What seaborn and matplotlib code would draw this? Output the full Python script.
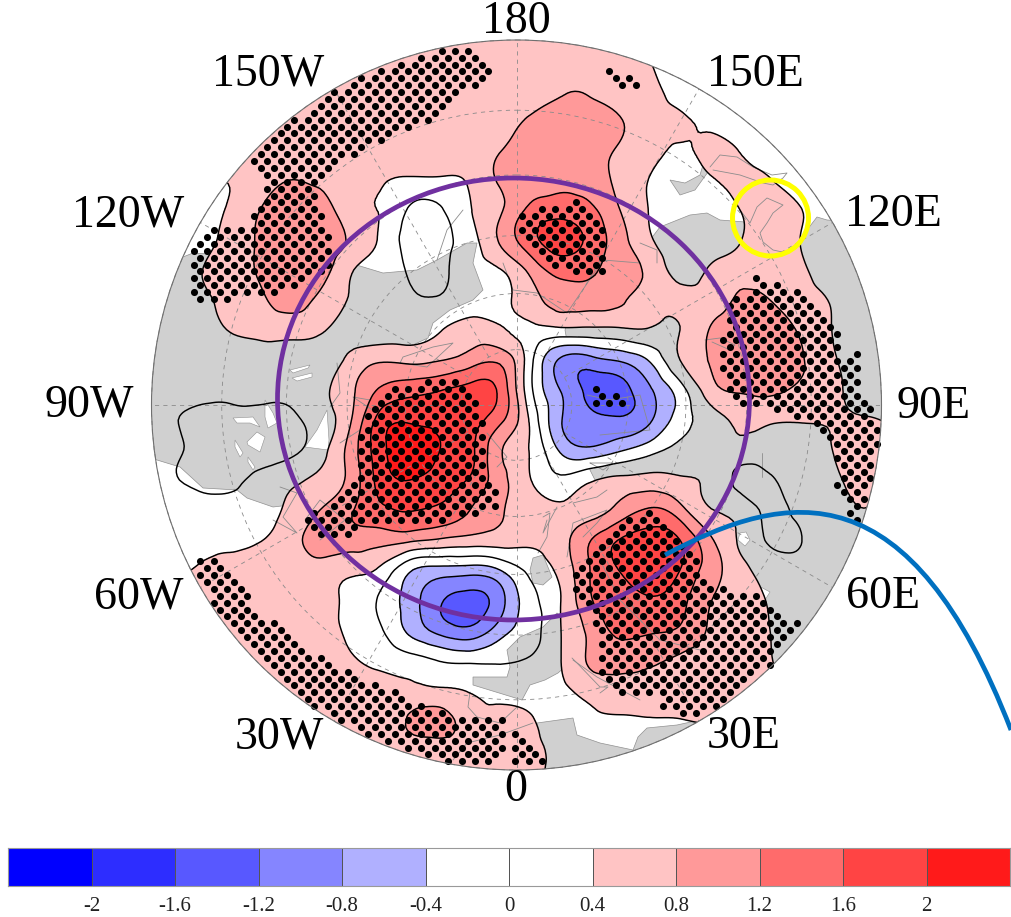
#!/usr/bin/env python3
import numpy as np
import seaborn as sns
import matplotlib.pyplot as plt
from matplotlib import colors, patches, tri
from matplotlib.path import Path

sns.set_theme(style="white")
plt.rcParams["font.family"] = ["Liberation Serif", "DejaVu Serif"]

# Map is laid out in reference picture coordinates
MAP_CENTER = (516.5, 405)
MAP_RADIUS = 365

grid_x = [140, 170, 200, 230, 260, 290, 320, 350, 380, 410, 440, 470, 500,
          530, 560, 590, 620, 650, 680, 710, 740, 770, 800, 830, 860, 890]
grid_y = [30, 60, 90, 120, 150, 180, 210, 240, 270, 300, 330, 360, 390, 420,
          450, 480, 510, 540, 570, 600, 630, 660, 690, 720, 750, 780]

# Field values, one list per row of grid_y
field_rows = [
    [.6] * 17 + [.3] + [.2] * 8,
    [.6] * 17 + [.4] + [.2] * 8,
    [.6] * 14 + [.75, .75, .6, .5, .25] + [.2] * 7,
    [.6] * 13 + [.85, .95, .95, .82, .6, .45, .3] + [.2] * 6,
    [.6] * 12 + [.78, 1.0, 1.05, 1.0, .75, .55, .35, .5, .38, .2] + [.2] * 4,
    [.3, .3, .3, .42, .6, .8, .7, .6, .45, .35, .35, .45, .85, 1.0, 1.1, 1.0, .7, .38, .15, .35, .5, .42, .2, .2, .2, .2],
    [.25, .25, .25, .45, .8, 1.05, 1.05, .55, .38, -.05, -.05, .38, .75, 1.3, 1.45, 1.3, .8, .38, .1, .1, .4, .55, .42, .2, .2, .2],
    [.2, .2, .25, .55, .85, 1.1, 1.1, .75, .35, -.15, -.15, .25, .85, 1.45, 1.75, 1.5, .95, .45, .1, .1, .38, .6, .4, .15, .15, .15],
    [.2, .2, .38, .6, .85, 1.1, 1.0, .45, .25, -.05, -.1, .2, .38, .9, 1.35, 1.3, .95, .7, .25, .45, .65, .65, .5, .15, .15, .15],
    [.15, .15, .3, .52, .72, .95, .7, .38, .2, .05, .05, .2, .3, .62, .95, .95, .85, .6, .5, .6, .85, .8, .6, .38, .15, .15],
    [.1, .1, .2, .42, .52, .55, .45, .25, .15, .2, .38, .55, .45, .3, .3, .3, .33, .36, .4, .82, 1.05, 1.05, .75, .42, .15, .15],
    [.1, .1, .1, .15, .2, .2, .2, .5, .75, .7, .78, 1.0, 1.1, .15, -.85, -.95, -.75, -.35, .4, .82, 1.1, 1.15, .85, .5, .15, .15],
    [.1, .1, .1, .1, .1, .1, .3, .7, 1.25, 1.45, 1.58, 1.75, 1.5, .12, -.8, -1.3, -1.35, -.85, -.18, .62, .85, .9, .72, .55, .2, .1],
    [.1, .05, -.1, -.15, -.15, -.1, .2, .75, 1.75, 1.95, 1.95, 1.78, 1.3, .35, -.75, -1.15, -1.15, -.85, -.2, .2, .48, .45, .42, .42, .45, .35],
    [.1, .08, -.1, -.2, -.2, -.1, .25, .95, 1.85, 2.2, 2.0, 1.72, .85, .38, -.45, -.7, -.45, -.15, .1, .2, .25, .2, .25, .38, .62, .5],
    [.1, .05, -.1, -.1, .1, .3, .5, .92, 1.75, 2.0, 1.85, 1.55, .95, .42, .1, .35, .5, .55, .45, .32, -.1, -.05, .15, .25, .6, .4],
    [.3, .25, .2, .15, .2, .5, .8, 1.15, 1.5, 1.62, 1.52, 1.2, .85, .6, .48, .62, .95, 1.25, .95, .42, .25, -.1, .1, .2, .38, .2],
    [.3, .25, .3, .3, .38, .65, .95, 1.0, .95, .88, .75, .65, .6, .5, .65, 1.18, 1.62, 1.8, 1.6, .88, .35, -.05, -.02, .25, .2, .2],
    [.3, .3, .45, .55, .6, .6, .65, .5, .32, -.35, -.55, -.6, -.4, .1, .5, 1.2, 1.62, 1.9, 1.6, 1.0, .55, .2, .15, .1, .1, .1],
    [.6, .6, .6, .6, .6, .6, .55, .3, -.05, -.6, -1.15, -1.35, -.95, -.15, .38, 1.15, 1.45, 1.55, 1.35, .82, .65, .35, .2, .15, .15, .15],
    [.6] * 7 + [.32, .05, -.5, -.95, -1.1, -.6, -.18, .38, .9, 1.3, 1.25, 1.15, .75, .55, .4, .18, .15, .15, .15],
    [.6] * 7 + [.45, .3, .15, -.03, -.1, -.05, .03, .38, .85, .95, .88, .72, .6, .55, .42, .2, .15, .15, .15],
    [.6] * 8 + [.55, .5, .45, .38, .25, .2, .3, .55, .65, .6, .55, .5, .5, .4, .2, .15, .15, .15],
    [.6] * 8 + [.6, .85, .95, .6, .55, .45, .2, .3, .35, .38, .39, .42, .3, .2, .15, .15, .15, .15],
    [.6] * 13 + [.5, .3] + [.2] * 11,
    [.6] * 13 + [.5, .3] + [.2] * 11,
]

fill_levels = [-3, -2, -1.6, -1.2, -.8, -.4, .4, .8, 1.2, 1.6, 2, 3]
fill_colors = ["#0000ff", "#2d2dff", "#5858ff", "#8585ff", "#b0b0ff", "none",
               "#ffc4c4", "#ff9999", "#ff6b6b", "#ff4444", "#ff1a1a"]
line_levels = [-1.2, -.8, -.4, 0, .4, .8, 1.2, 1.6, 2]

# Colorbar
bar_values = [-2.2, -1.8, -1.4, -1, -.6, -.2, .2, .6, 1, 1.4, 1.8, 2.2]
bar_colors = ["#0000ff", "#2d2dff", "#5858ff", "#8585ff", "#b0b0ff", "#ffffff",
              "#ffffff", "#ffc4c4", "#ff9999", "#ff6b6b", "#ff4444", "#ff1a1a"]
bar_labels = ["-2", "-1.6", "-1.2", "-0.8", "-0.4", "0", "0.4", "0.8", "1.2", "1.6", "2"]

# Longitude labels round the map
lon_labels = ["180", "150W", "150E", "120W", "120E", "90W", "90E", "60W", "60E", "30W", "30E", "0"]
lon_label_x = [516, 268, 755, 128, 893, 89, 934, 139, 883, 279, 744, 516]
lon_label_y = [22, 74, 75, 215, 215, 405, 407, 597, 597, 737, 737, 790]

# Graticule
lat_circles = [30, 40, 50, 60, 70, 80]
meridians = [0, 30, 60, 90, 120, 150, 180, 210, 240, 270, 300, 330]

# Land outlines
land_america = [(110, 257), (183, 257), (193, 253), (350, 263), (383, 273), (417, 270), (437, 260),
                (467, 243), (477, 243), (473, 263), (483, 290), (473, 300), (450, 310), (433, 323),
                (428, 338), (380, 360), (340, 380), (345, 480), (290, 505), (273, 507), (247, 498),
                (237, 490), (203, 488), (180, 467), (157, 460), (110, 445)]
land_asia = [(807, 230), (817, 217), (827, 220), (900, 225), (900, 670), (770, 670), (700, 650),
             (660, 560), (600, 490), (590, 470), (565, 330), (570, 316), (720, 310), (790, 270)]
land_fareast = [(660, 227), (690, 215), (707, 213), (720, 220), (745, 222), (745, 250), (710, 300), (680, 290), (650, 240)]
land_sakhalin = [(670, 180), (685, 183), (700, 175), (703, 165), (708, 172), (695, 190), (680, 195)]
land_europe = [(557, 613), (565, 620), (567, 665), (558, 673), (545, 680), (530, 685), (522, 700), (473, 685),
               (473, 677), (507, 677), (510, 667), (507, 650), (520, 637), (543, 627)]
land_europe_north = [(533, 558), (543, 555), (552, 577), (543, 585), (533, 583), (530, 570)]
land_africa = [(537, 723), (573, 718), (577, 735), (600, 743), (633, 750), (638, 737), (647, 728),
               (677, 725), (700, 720), (720, 790), (540, 790)]
lands = [land_america, land_asia, land_fareast, land_sakhalin, land_europe, land_europe_north, land_africa]

# White water inside the gray land
lake_hudson = [(305, 447), (317, 430), (327, 410), (329, 440), (328, 450)]
lake_a = [(233, 418), (253, 417), (260, 427), (250, 423), (237, 423)]
lake_b = [(265, 400), (273, 413), (277, 423), (268, 428), (265, 417)]
lake_c = [(247, 442), (257, 432), (265, 437), (260, 452), (248, 445)]
lake_d = [(235, 440), (243, 453), (240, 457), (235, 447)]
lake_e = [(248, 457), (255, 467), (253, 470), (248, 462)]
lake_f = [(290, 370), (310, 365), (308, 368), (293, 373)]
lake_g = [(292, 378), (312, 373), (312, 377), (297, 381)]
lake_h = [(740, 533), (746, 532), (750, 540), (745, 546), (738, 540)]
lake_i = [(757, 585), (770, 592), (765, 600), (758, 592)]
lakes = [lake_hudson, lake_a, lake_b, lake_c, lake_d, lake_e, lake_f, lake_g, lake_h, lake_i]

# Thin coast lines that show through the colours
coast_lines = [
    [(740, 210), (750, 223), (757, 207), (767, 198), (783, 205), (773, 213), (767, 223), (760, 233), (763, 242), (773, 250), (787, 253)],
    [(710, 167), (720, 155), (737, 157), (753, 167), (772, 175), (787, 173), (783, 178), (773, 185), (763, 183), (740, 175), (713, 170)],
    [(503, 263), (513, 290), (537, 293), (567, 313), (603, 260), (640, 263)],
    [(400, 363), (403, 357), (433, 347), (453, 343), (427, 367), (400, 363)],
    [(340, 443), (360, 430), (370, 400), (353, 397), (377, 413)],
    [(487, 433), (507, 457), (497, 467)],
    [(590, 463), (613, 463), (603, 470), (590, 463)],
    [(547, 520), (543, 533), (557, 507)],
    [(607, 490), (597, 497), (573, 503)],
    [(572, 658), (577, 663), (600, 687), (608, 687), (600, 693)],
    [(470, 692), (468, 707), (477, 717), (500, 723), (517, 707), (518, 700)],
    [(533, 723), (500, 735), (467, 743), (453, 760)],
    [(587, 395), (610, 400), (640, 395), (650, 430), (600, 435)],
    [(705, 340), (720, 338), (735, 345), (730, 350), (712, 342)],
    [(600, 560), (620, 600), (660, 640), (700, 650)],
    [(305, 520), (320, 500), (345, 520), (320, 540)],
    [(567, 557), (573, 523), (607, 510), (597, 523), (583, 537)],
    [(543, 517), (550, 513), (547, 537), (538, 553)],
    [(573, 660), (597, 677), (640, 700)],
    [(640, 243), (657, 250), (657, 263)],
    [(280, 487), (297, 493), (283, 517), (297, 533), (273, 520)],
    [(337, 363), (340, 393), (330, 407)],
    [(762, 453), (762, 477)],
    [(463, 210), (447, 230), (437, 260)],
]

# Stippled areas, one outline each
stipple_top_left = [(472, 42), (500, 70), (458, 97), (438, 118), (398, 132), (365, 152), (345, 158), (325, 180),
                    (315, 183), (332, 240), (332, 267), (300, 287), (278, 295), (230, 300), (190, 300), (190, 243),
                    (203, 230), (250, 230), (257, 205), (270, 183), (243, 165), (283, 123), (333, 90), (377, 70), (417, 55)]
stipple_main = [(380, 390), (397, 385), (443, 378), (472, 387), (478, 410), (487, 435), (487, 473), (500, 502),
                (487, 513), (440, 523), (373, 523), (345, 537), (318, 540), (302, 522), (343, 490), (357, 475), (362, 423)]
stipple_north = [(573, 198), (607, 230), (607, 273), (587, 280), (540, 260), (513, 218), (520, 212), (560, 207)]
stipple_north_small = [(607, 70), (647, 83), (627, 92), (605, 83)]
stipple_low = [(595, 385), (632, 398), (630, 405), (595, 405)]
stipple_east = [(755, 272), (780, 283), (802, 293), (822, 313), (837, 327), (840, 357), (857, 347), (863, 393),
                (877, 407), (877, 420), (880, 450), (877, 473), (870, 497), (863, 517), (855, 523), (835, 488),
                (842, 473), (828, 442), (815, 428), (787, 415), (735, 402), (723, 380), (722, 333), (733, 293), (747, 293)]
stipple_south_east = [(650, 510), (680, 530), (700, 565), (715, 585), (735, 590), (757, 590), (780, 610), (803, 628),
                      (770, 665), (735, 695), (700, 718), (667, 712), (655, 697), (627, 698), (620, 690), (597, 670),
                      (598, 630), (570, 580), (580, 560), (600, 540), (630, 515)]
stipple_south_west = [(200, 553), (225, 563), (255, 605), (300, 648), (350, 670), (400, 695), (420, 703), (455, 715),
                      (505, 715), (505, 745), (490, 770), (450, 768), (390, 745), (300, 710), (240, 650), (195, 580)]
stipple_south = [(515, 733), (530, 745), (552, 770), (515, 772)]
stipple_areas = [stipple_top_left, stipple_main, stipple_north, stipple_north_small, stipple_low, stipple_east,
                 stipple_south_east, stipple_south_west, stipple_south]

# Lattice of the significance dots
DOT_DX = 13.4
DOT_DY = 6.9


def main():
    fig = plt.figure(figsize=(10.11, 9.17), dpi=100)
    ax = fig.add_axes([0, 0, 1, 1])
    ax.set_xlim(0, 1011)
    ax.set_ylim(917, 0)
    ax.axis("off")

    clip_circle = patches.Circle(MAP_CENTER, MAP_RADIUS, transform=ax.transData)

    # -------------------------------------------------------------------------
    # Land under the colours

    for land in lands:
        poly = patches.Polygon(land, closed=True, facecolor="#d0d0d0", edgecolor="#909090", linewidth=0.5, zorder=1)
        ax.add_patch(poly)
        poly.set_clip_path(clip_circle)
    for lake in lakes:
        poly = patches.Polygon(lake, closed=True, facecolor="white", edgecolor="#909090", linewidth=0.4, zorder=1.1)
        ax.add_patch(poly)
        poly.set_clip_path(clip_circle)

    # -------------------------------------------------------------------------
    # Field, contoured on matplotlib's refined triangulation so the lines run smooth

    field = np.array(field_rows, dtype=float)
    X, Y = np.meshgrid(grid_x, grid_y)
    triang = tri.Triangulation(X.ravel(), Y.ravel())
    refiner = tri.UniformTriRefiner(triang)
    fine_tri, fine_field = refiner.refine_field(field.ravel(), subdiv=3)

    filled = ax.tricontourf(fine_tri, fine_field, levels=fill_levels, colors=fill_colors, zorder=2)
    filled.set_clip_path(clip_circle)

    # the band just below zero is only white round the polar low
    ring_box = patches.Rectangle((525, 322), 175, 165, transform=ax.transData)
    ring = ax.tricontourf(fine_tri, fine_field, levels=[-.4, 0], colors=["white"], zorder=2)
    ring.set_clip_path(ring_box)

    for coast in coast_lines:
        xs, ys = zip(*coast)
        ln, = ax.plot(xs, ys, color="#8c8c8c", lw=0.6, zorder=3)
        ln.set_clip_path(clip_circle)

    # -------------------------------------------------------------------------
    # Graticule

    for lat in lat_circles:
        radius = MAP_RADIUS * np.tan(np.radians(90 - lat) / 2) / np.tan(np.radians(30))
        circ = patches.Circle(MAP_CENTER, radius, fill=False, edgecolor="#8a8a8a", linewidth=0.6,
                              linestyle=(0, (5, 5)), zorder=3.2)
        ax.add_patch(circ)
    inner = MAP_RADIUS * np.tan(np.radians(5)) / np.tan(np.radians(30))
    for lon in meridians:
        start = 0 if lon % 90 == 0 else inner
        ang = np.radians(lon)
        ax.plot([MAP_CENTER[0] + start * np.sin(ang), MAP_CENTER[0] + MAP_RADIUS * np.sin(ang)],
                [MAP_CENTER[1] + start * np.cos(ang), MAP_CENTER[1] + MAP_RADIUS * np.cos(ang)],
                color="#8a8a8a", lw=0.6, ls=(0, (5, 5)), zorder=3.2)

    lines = ax.tricontour(fine_tri, fine_field, levels=line_levels, colors="black", linewidths=1.05,
                          linestyles="solid", zorder=4)
    lines.set_clip_path(clip_circle)

    # -------------------------------------------------------------------------
    # Significance dots

    lat_y = np.arange(30, 785, DOT_DY)
    dot_x, dot_y = [], []
    for i, yy in enumerate(lat_y):
        row = np.arange(140 + (i % 2) * DOT_DX / 2, 900, DOT_DX)
        dot_x.extend(row)
        dot_y.extend([yy] * len(row))
    dots = np.column_stack([dot_x, dot_y])
    inside = np.zeros(len(dots), dtype=bool)
    for area in stipple_areas:
        inside |= Path(area).contains_points(dots)
    dist = np.hypot(dots[:, 0] - MAP_CENTER[0], dots[:, 1] - MAP_CENTER[1])
    inside &= dist < MAP_RADIUS - 2
    sns.scatterplot(x=dots[inside, 0], y=dots[inside, 1], ax=ax, color="black", s=26, linewidth=0,
                    legend=False, zorder=5)
    ax.set_xlim(0, 1011)
    ax.set_ylim(917, 0)

    ax.add_patch(patches.Circle(MAP_CENTER, MAP_RADIUS, fill=False, edgecolor="#707070", linewidth=0.8, zorder=6))

    # -------------------------------------------------------------------------
    # Longitude labels

    for label, lx, ly in zip(lon_labels, lon_label_x, lon_label_y):
        ax.text(lx, ly, label, fontsize=33, color="black", ha="center", va="center", zorder=7)

    # -------------------------------------------------------------------------
    # Hand drawn marks on top

    ax.add_patch(patches.Ellipse((513.5, 399), 472, 442, fill=False, edgecolor="#7030a0", linewidth=3.4, zorder=8))
    ax.add_patch(patches.Circle((770.5, 218), 38, fill=False, edgecolor="#ffff00", linewidth=3.6, zorder=8))
    curve = Path([(665, 555), (790, 488), (910, 470), (1011, 730)],
                 [Path.MOVETO, Path.CURVE4, Path.CURVE4, Path.CURVE4])
    ax.add_patch(patches.PathPatch(curve, fill=False, edgecolor="#0070c0", linewidth=3.4, zorder=8))

    # -------------------------------------------------------------------------
    # Colorbar

    cax = fig.add_axes([8 / 1011, (917 - 886) / 917, 1002 / 1011, 38 / 917])
    sns.heatmap(np.array([bar_values]), ax=cax, cmap=colors.ListedColormap(bar_colors), vmin=-2.4, vmax=2.4,
                cbar=False, linewidths=0.6, linecolor="#555555", yticklabels=False)
    cax.set_xticks(np.arange(1, 12))
    cax.set_xticklabels(bar_labels, rotation=0, fontsize=15, color="#222222")
    cax.tick_params(axis="x", length=0, pad=8)
    for spine in cax.spines.values():
        spine.set_visible(True)
        spine.set_color("#999999")
        spine.set_linewidth(0.8)

    plt.savefig("out.png", dpi=100)


if __name__ == "__main__":
    main()
